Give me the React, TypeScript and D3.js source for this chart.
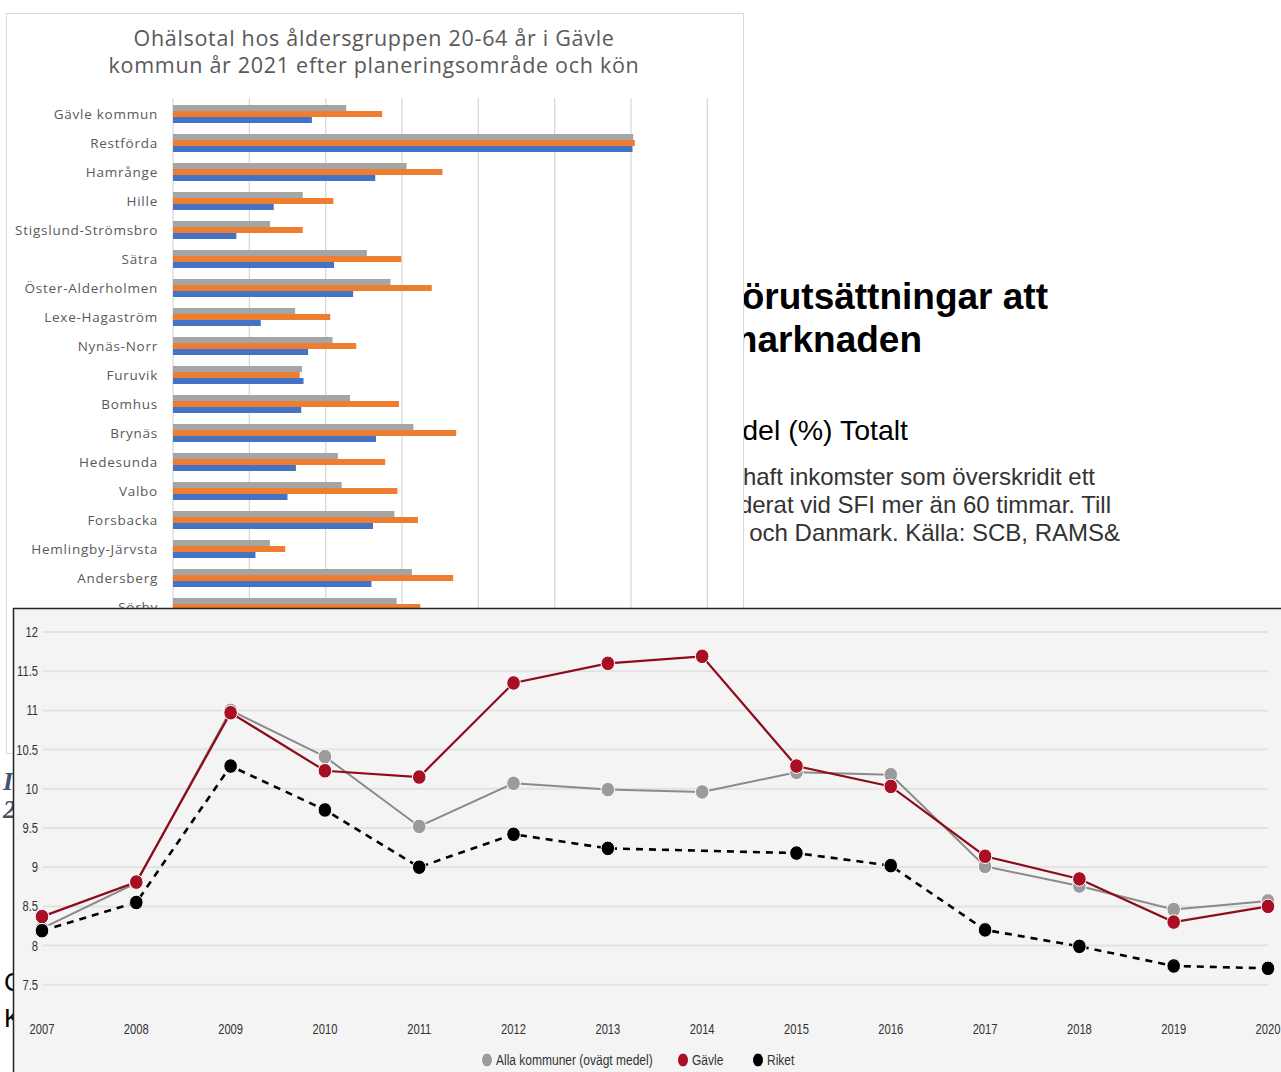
import React from 'react';
import * as d3 from 'd3';

// Bar chart (Ohälsotal per planeringsområde)
const barCategories = [
  'Gävle kommun', 'Restförda', 'Hamrånge', 'Hille', 'Stigslund-Strömsbro', 'Sätra',
  'Öster-Alderholmen', 'Lexe-Hagaström', 'Nynäs-Norr', 'Furuvik', 'Bomhus', 'Brynäs',
  'Hedesunda', 'Valbo', 'Forsbacka', 'Hemlingby-Järvsta', 'Andersberg', 'Sörby',
];
const barTotal = [22.7, 60.3, 30.6, 17.0, 12.7, 25.4, 28.5, 16.0, 20.9, 16.9, 23.2, 31.5, 21.6, 22.1, 29.0, 12.7, 31.3, 29.3];
const barWomen = [27.4, 60.5, 35.3, 21.0, 17.0, 29.9, 33.9, 20.6, 24.0, 16.6, 29.6, 37.1, 27.8, 29.4, 32.1, 14.7, 36.7, 32.4];
const barMen = [18.2, 60.2, 26.5, 13.2, 8.3, 21.1, 23.6, 11.5, 17.7, 17.1, 16.8, 26.6, 16.1, 15.0, 26.2, 10.8, 26.0, 25.0];
const barSeries = ['Totalt', 'Kvinnor', 'Män'];
const barColors = ['#a5a5a5', '#ed7d31', '#4472c4'];
const barTicks = [0, 10, 20, 30, 40, 50, 60, 70];

// Line chart
const years = ['2007', '2008', '2009', '2010', '2011', '2012', '2013', '2014', '2015', '2016', '2017', '2018', '2019', '2020'];
const allaKommuner = [8.22, 8.8, 11.0, 10.41, 9.52, 10.07, 9.99, 9.96, 10.21, 10.18, 9.01, 8.76, 8.46, 8.57];
const gavle = [8.37, 8.81, 10.97, 10.23, 10.15, 11.35, 11.6, 11.69, 10.29, 10.03, 9.14, 8.85, 8.3, 8.5];
const riket: (number | null)[] = [8.19, 8.55, 10.29, 9.73, 9.0, 9.42, 9.24, null, 9.18, 9.02, 8.2, 7.99, 7.74, 7.71];
const yTicks = [7.5, 8, 8.5, 9, 9.5, 10, 10.5, 11, 11.5, 12];
const legendLabels = ['Alla kommuner (ovägt medel)', 'Gävle', 'Riket'];

const W = 1281;
const H = 1072;
const calibri = "'Open Sans', Lato, sans-serif";
const arial = "'Liberation Sans', Arial, sans-serif";

// condensed label (the original uses a narrow font)
const Narrow: React.FC<{ x: number; y: number; anchor?: string; size?: number; children: React.ReactNode }> =
  ({ x, y, anchor = 'start', size = 14, children }) => (
    <text transform={`translate(${x},${y}) scale(0.8,1)`} textAnchor={anchor} dy="0.35em"
      fontFamily={arial} fontSize={size} fill="#333">{children}</text>
  );

const App: React.FC = () => {
  // bar scales
  const xBar = d3.scaleLinear().domain([0, 70]).range([173, 707.3]);
  const yBar = d3.scaleBand().domain(barCategories).range([99.5, 99.5 + 29 * barCategories.length]);
  const ySer = d3.scaleBand().domain(barSeries).range([0, 18]);
  const barValues = [barTotal, barWomen, barMen];

  // line scales
  const xLine = d3.scalePoint().domain(years).range([42, 1268]);
  const yLine = d3.scaleLinear().domain([7.5, 12]).range([984.8, 632]);

  const pts = (vals: (number | null)[]) =>
    years.map((y, i) => ({ year: y, v: vals[i] })).filter(d => d.v != null) as { year: string; v: number }[];

  const line = d3.line<{ year: string; v: number }>()
    .x(d => xLine(d.year) as number)
    .y(d => yLine(d.v));

  const series = [
    { name: legendLabels[0], data: pts(allaKommuner), stroke: '#8a8a8a', dot: '#9b9b9b', width: 2, dash: undefined },
    { name: legendLabels[1], data: pts(gavle), stroke: '#8e0b1b', dot: '#a80f25', width: 2.2, dash: undefined },
    { name: legendLabels[2], data: pts(riket), stroke: '#000', dot: '#000', width: 2.6, dash: '7,6' },
  ];

  const legendX = [487, 683, 758];

  return (
    <svg width={W} height={H} style={{ position: 'absolute', left: 0, top: 0, background: '#fff' }}>
      {/* background page text fragments */}
      <g fontFamily={arial}>
        <text x={1048} y={309} fontSize={37} fontWeight="bold" textAnchor="end" fill="#000">Förutsättningar att</text>
        <text x={922} y={352} fontSize={37} fontWeight="bold" textAnchor="end" fill="#000">arbetsmarknaden</text>
        <text x={908} y={440} fontSize={28.5} textAnchor="end" fill="#000">Andel (%) Totalt</text>
        <text x={1095} y={485} fontSize={24} textAnchor="end" fill="#333">Andel som haft inkomster som överskridit ett</text>
        <text x={1111} y={513} fontSize={24} textAnchor="end" fill="#333">eller studerat vid SFI mer än 60 timmar. Till</text>
        <text x={1120} y={541} fontSize={24} textAnchor="end" fill="#333">Norge  och Danmark. Källa: SCB, RAMS&amp;</text>
        <text x={3} y={790} fontSize={26} fontStyle="italic" fontWeight="bold" fontFamily="'Liberation Serif', serif" fill="#44546a">I</text>
        <text x={3} y={818} fontSize={26} fontStyle="italic" fontWeight="bold" fontFamily="'Liberation Serif', serif" fill="#44546a">2</text>
        <text x={4} y={991} fontSize={26} fill="#000">C</text>
        <text x={4} y={1027} fontSize={26} fill="#000">K</text>
      </g>

      {/* bar chart panel */}
      <rect x={6.5} y={13.5} width={737} height={740} fill="#fff" stroke="#d9d9d9" />
      <g fontFamily={calibri} fill="#595959" letterSpacing={0.7}>
        <text x={374} y={46} fontSize={21.5} textAnchor="middle">Ohälsotal hos åldersgruppen 20-64 år i Gävle</text>
        <text x={374} y={73} fontSize={21.5} textAnchor="middle">kommun år 2021 efter planeringsområde och kön</text>
      </g>
      {barTicks.map(t => (
        <line key={t} x1={xBar(t)} x2={xBar(t)} y1={98} y2={745} stroke="#d9d9d9" strokeWidth={1.3} />
      ))}
      {barCategories.map((c, i) => (
        <g key={c}>
          {barSeries.map((s, j) => (
            <rect key={s} x={xBar(0)} y={(yBar(c) as number) + (yBar.bandwidth() - 18) / 2 + (ySer(s) as number)}
              width={xBar(barValues[j][i]) - xBar(0)} height={ySer.bandwidth()} fill={barColors[j]} />
          ))}
          <text x={158} y={(yBar(c) as number) + yBar.bandwidth() / 2} dy="0.35em" textAnchor="end"
            fontFamily={calibri} fontSize={13.5} letterSpacing={0.75} fill="#595959">{c}</text>
        </g>
      ))}

      {/* line chart panel */}
      <rect x={13} y={608} width={W} height={H} fill="#f4f4f4" />
      <line x1={13} x2={W} y1={608.5} y2={608.5} stroke="#222" strokeWidth={1.5} />
      <line x1={13.5} x2={13.5} y1={608} y2={H} stroke="#222" strokeWidth={1.5} />
      {yTicks.map(t => (
        <g key={t}>
          <line x1={43} x2={1268} y1={yLine(t)} y2={yLine(t)} stroke="#e2e2e2" strokeWidth={2} />
          <Narrow x={38} y={yLine(t)} anchor="end">{String(t)}</Narrow>
        </g>
      ))}
      {years.map(y => (
        <Narrow key={y} x={xLine(y) as number} y={1029} anchor="middle">{y}</Narrow>
      ))}
      {series.map(s => (
        <path key={s.name} d={line(s.data) || ''} fill="none" stroke={s.stroke} strokeWidth={s.width}
          strokeDasharray={s.dash} />
      ))}
      {series.map(s => (
        <g key={s.name}>
          {s.data.map(d => (
            <ellipse key={d.year} cx={xLine(d.year)} cy={yLine(d.v)} rx={6.8} ry={7.3} fill={s.dot}
              stroke="#fff" strokeWidth={1} />
          ))}
        </g>
      ))}

      {/* legend */}
      {series.map((s, i) => (
        <g key={s.name}>
          <ellipse cx={legendX[i]} cy={1060} rx={5.5} ry={7} fill={s.dot} stroke="#fff" strokeWidth={1} />
          <Narrow x={legendX[i] + 9} y={1060} size={15}>{s.name}</Narrow>
        </g>
      ))}
    </svg>
  );
};

export default App;
